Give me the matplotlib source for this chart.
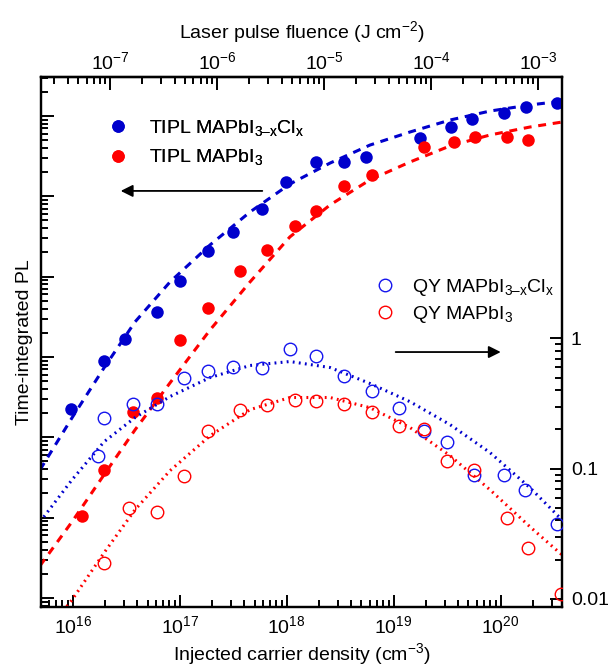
import numpy as np
import matplotlib
matplotlib.use('Agg')
import matplotlib.pyplot as plt
from matplotlib.ticker import FixedLocator, NullFormatter, LogLocator
from matplotlib.lines import Line2D

plt.rcParams['font.family'] = ['Liberation Sans', 'DejaVu Sans']
plt.rcParams['mathtext.fontset'] = 'custom'
plt.rcParams['mathtext.rm'] = 'Liberation Sans'
plt.rcParams['mathtext.it'] = 'Liberation Sans:italic'
plt.rcParams['mathtext.default'] = 'regular'

BLUE = '#0000cc'
RED = '#ff0000'

# TIPL (left axis, a.u.)
tipl_cl_density = [9.6e15, 1.96e16, 3.08e16, 6.14e16, 1.01e17, 1.84e17, 3.15e17, 5.88e17,
                   9.85e17, 1.88e18, 3.43e18, 5.51e18, 1.76e19, 3.43e19, 5.40e19, 1.07e20,
                   1.72e20, 3.36e20]
tipl_cl = [226, 895, 1680, 3640, 8850, 20900, 36000, 69500, 151000, 267000, 267000, 308000,
           531000, 728000, 916000, 1.09e6, 1.29e6, 1.45e6]

tipl_i_density = [1.22e16, 1.96e16, 3.66e16, 6.14e16, 1.01e17, 1.84e17, 3.66e17, 6.55e17,
                  1.20e18, 1.88e18, 3.43e18, 6.27e18, 1.92e19, 3.66e19, 5.75e19, 1.15e20,
                  1.80e20]
tipl_i = [10.6, 39.4, 207, 310, 1630, 4070, 11800, 21500, 42700, 65600, 134000, 184000,
          410000, 473000, 546000, 546000, 501000]

# QY (right axis)
qy_cl_density = [1.72e16, 1.96e16, 3.66e16, 6.14e16, 1.10e17, 1.84e17, 3.15e17, 5.88e17,
                 1.07e18, 1.88e18, 3.43e18, 6.27e18, 1.12e19, 1.92e19, 3.15e19, 5.62e19,
                 1.07e20, 1.69e20, 3.36e20]
qy_cl = [0.126, 0.243, 0.316, 0.316, 0.501, 0.567, 0.609, 0.598, 0.823, 0.727, 0.519, 0.398,
         0.290, 0.196, 0.161, 0.0899, 0.0899, 0.0689, 0.0378]

qy_i_density = [1.96e16, 3.38e16, 6.14e16, 1.10e17, 1.84e17, 3.66e17, 6.55e17, 1.20e18,
                1.88e18, 3.43e18, 6.27e18, 1.12e19, 1.92e19, 3.15e19, 5.62e19, 1.15e20,
                1.80e20, 3.66e20]
qy_i = [0.0189, 0.0501, 0.0467, 0.0883, 0.196, 0.284, 0.306, 0.334, 0.328, 0.316, 0.274,
        0.211, 0.200, 0.115, 0.0983, 0.0420, 0.0247, 0.0109]

# fitted curves
fit_density = [4.94e15, 9.84e15, 1.96e16, 3.82e16, 8.11e16, 1.92e17, 4.54e17, 1.07e18,
               2.54e18, 6.00e18, 1.42e19, 3.36e19, 7.94e19, 1.88e20, 3.74e20]
fit_tipl_cl = [39.4, 175, 733, 2735, 8590, 24800, 63800, 142000, 259000, 434000, 631000,
               889000, 1.15e6, 1.37e6, 1.53e6]
fit_tipl_i = [2.52, 8.89, 34.2, 124, 476, 2170, 8590, 31200, 78000, 160000, 267000, 423000,
              579000, 728000, 839000]
fit_qy_cl = [0.0391, 0.0822, 0.161, 0.247, 0.358, 0.501, 0.620, 0.665, 0.598, 0.451, 0.327,
             0.218, 0.133, 0.0714, 0.0405]
fit_qy_i = [0.00484, 0.00983, 0.0226, 0.0484, 0.0966, 0.179, 0.284, 0.352, 0.352, 0.294,
            0.207, 0.126, 0.0689, 0.0358, 0.0218]

fluence_ticks = [1e-7, 1e-6, 1e-5, 1e-4, 1e-3]
qy_ticks = [0.01, 0.1, 1]
qy_tick_labels = ['0.01', '0.1', '1']

# fluence = density * factor
FLUENCE_FACTOR = 10 ** -23.35

fig = plt.figure(figsize=(6.13, 6.67), dpi=100)
ax = fig.add_axes([0.0664, 0.0900, 0.8512, 0.7946])
ax2 = ax.twinx()

ax.set_xscale('log')
ax.set_yscale('log')
ax2.set_yscale('log')
ax.set_xlim(10 ** 15.70, 10 ** 20.578)
ax.set_ylim(10 ** -0.112, 10 ** 6.485)
ax2.set_ylim(10 ** -2.062, 10 ** 2.008)

ax.plot(fit_density, fit_tipl_cl, color=BLUE, lw=2.2, ls=(0, (2.6, 2.2)), zorder=2)
ax.plot(fit_density, fit_tipl_i, color=RED, lw=2.2, ls=(0, (2.6, 2.2)), zorder=2)
ax2.plot(fit_density, fit_qy_cl, color=BLUE, lw=2.2, ls=(0, (0.6, 1.4)), zorder=2)
ax2.plot(fit_density, fit_qy_i, color=RED, lw=2.2, ls=(0, (0.6, 1.4)), zorder=2)

ax.plot(tipl_cl_density, tipl_cl, 'o', color=BLUE, ms=9, mew=0, zorder=3)
ax.plot(tipl_i_density, tipl_i, 'o', color=RED, ms=9, mew=0, zorder=3)
ax2.plot(qy_cl_density, qy_cl, 'o', mfc='none', mec='#1515ee', ms=9, mew=1.0, zorder=3)
ax2.plot(qy_i_density, qy_i, 'o', mfc='none', mec=RED, ms=9, mew=1.0, zorder=3)

# axes styling
for a in (ax, ax2):
    for s in a.spines.values():
        s.set_linewidth(1.6)

ax.tick_params(axis='x', which='both', direction='in', top=False, bottom=True,
               labelsize=14, pad=6, width=1.4)
ax.tick_params(axis='x', which='major', length=9)
ax.tick_params(axis='x', which='minor', length=5)
ax.xaxis.set_major_locator(LogLocator(base=10, numticks=20))
ax.xaxis.set_minor_locator(LogLocator(base=10, subs=np.arange(2, 10), numticks=20))
ax.xaxis.set_minor_formatter(NullFormatter())

ax.set_yticks([10.0 ** k for k in range(0, 7)])
ax.yaxis.set_minor_locator(LogLocator(base=10, subs=np.arange(2, 10), numticks=20))
ax.yaxis.set_major_formatter(NullFormatter())
ax.yaxis.set_minor_formatter(NullFormatter())
ax.tick_params(axis='y', which='both', direction='in', left=True, right=False, width=1.4)
ax.tick_params(axis='y', which='major', length=9)
ax.tick_params(axis='y', which='minor', length=5)

qy_minor = [k * 10.0 ** e for e in (-2, -1) for k in range(2, 10)]
ax2.yaxis.set_major_locator(FixedLocator(qy_ticks))
ax2.yaxis.set_minor_locator(FixedLocator(qy_minor))
ax2.set_yticklabels(qy_tick_labels)
ax2.yaxis.set_minor_formatter(NullFormatter())
ax2.tick_params(axis='y', which='both', direction='in', left=False, right=True,
                labelsize=14, pad=6, width=1.4)
ax2.tick_params(axis='y', which='major', length=9)
ax2.tick_params(axis='y', which='minor', length=5)

sec = ax.secondary_xaxis('top', functions=(lambda n: n * FLUENCE_FACTOR,
                                             lambda f: f / FLUENCE_FACTOR))
sec.xaxis.set_major_locator(FixedLocator(fluence_ticks))
fl_minor = [k * 10.0 ** e for e in range(-8, -2) for k in range(2, 10)]
sec.xaxis.set_minor_locator(FixedLocator(fl_minor))
sec.set_xticklabels(['$10^{%d}$' % round(np.log10(t)) for t in fluence_ticks])
sec.xaxis.set_minor_formatter(NullFormatter())
sec.tick_params(axis='x', which='both', direction='in', labelsize=14, pad=3, width=1.4)
sec.tick_params(axis='x', which='major', length=9)
sec.tick_params(axis='x', which='minor', length=5)
sec.spines['top'].set_linewidth(1.6)
sec.set_xlabel('Laser pulse fluence (J cm$^{-2}$)', fontsize=14, labelpad=9)

ax.set_xlabel('Injected carrier density (cm$^{-3}$)', fontsize=14, labelpad=3)
ax.set_ylabel('Time-integrated PL', fontsize=14, labelpad=2)

# legends
h1 = [Line2D([], [], ls='none', marker='o', color=BLUE, ms=9, mew=0),
      Line2D([], [], ls='none', marker='o', color=RED, ms=9, mew=0)]
leg1 = ax.legend(h1, ['TIPL MAPbI$_{3\u2013x}$Cl$_x$', 'TIPL MAPbI$_3$'],
                 loc='upper left', bbox_to_anchor=(0.115, 0.938), frameon=False,
                 fontsize=14, handletextpad=1.1, labelspacing=0.5, handlelength=1.0,
                 borderaxespad=0)
ax.add_artist(leg1)

h2 = [Line2D([], [], ls='none', marker='o', mfc='none', mec='#1515ee', ms=9, mew=1.0),
      Line2D([], [], ls='none', marker='o', mfc='none', mec=RED, ms=9, mew=1.0)]
leg2 = ax2.legend(h2, ['QY MAPbI$_{3\u2013x}$Cl$_x$', 'QY MAPbI$_3$'],
                  loc='upper left', bbox_to_anchor=(0.626, 0.637), frameon=False,
                  fontsize=14, handletextpad=0.9, labelspacing=0.3, handlelength=1.0,
                  borderaxespad=0)

ax2.annotate('', xy=(0.148, 0.785), xytext=(0.43, 0.785), xycoords='axes fraction',
             arrowprops=dict(arrowstyle='-|>', color='black', lw=1.3, mutation_scale=18))
ax2.annotate('', xy=(0.887, 0.481), xytext=(0.675, 0.481), xycoords='axes fraction',
             arrowprops=dict(arrowstyle='-|>', color='black', lw=1.3, mutation_scale=18))

fig.savefig('out.png', dpi=100)
